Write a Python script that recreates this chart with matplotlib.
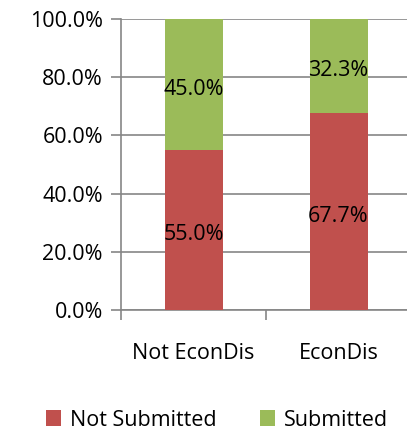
import matplotlib
matplotlib.use("Agg")
import matplotlib.pyplot as plt
import matplotlib.transforms as mtransforms
import numpy as np
from matplotlib.patches import Patch

categories = ["Not EconDis", "EconDis"]
not_submitted = [55.0, 67.7]
submitted = [45.0, 32.3]
series_names = ["Not Submitted", "Submitted"]
colors = ["#C0504D", "#9BBB59"]

plt.rcParams['font.family'] = ['Open Sans', 'DejaVu Sans']
FS = 15.5

fig = plt.figure(figsize=(4.07, 4.32), dpi=100)
ax = fig.add_axes([121/407, 1 - 310/432, 290/407, 291/432])

x = np.arange(len(categories))
w = 0.4
ax.bar(x, not_submitted, w, color=colors[0], zorder=3)
ax.bar(x, submitted, w, bottom=not_submitted, color=colors[1], zorder=3)

off = ax.transData + mtransforms.ScaledTranslation(0, -5/100, fig.dpi_scale_trans)
for i in range(len(categories)):
    ax.text(x[i], not_submitted[i] / 2, f"{not_submitted[i]:.1f}%", ha='center', va='center',
            fontsize=FS, color='black', zorder=4, transform=off)
    ax.text(x[i], not_submitted[i] + submitted[i] / 2, f"{submitted[i]:.1f}%", ha='center', va='center',
            fontsize=FS, color='black', zorder=4, transform=off)

ax.set_xlim(-0.5, 1.5)
ax.set_ylim(0, 100)
yt = np.arange(0, 101, 20)
ax.set_yticks(yt)
ax.set_yticklabels([f"{v:.1f}%" for v in yt], fontsize=FS)
ax.yaxis.grid(True, color='#868686', linewidth=1.2, zorder=0)
ax.tick_params(axis='y', length=7, width=1.2, color='#868686', pad=6)

ax.set_xticks([-0.5, 0.5, 1.5])
ax.set_xticklabels([])
ax.set_xticks(x, minor=True)
ax.set_xticklabels(categories, minor=True, fontsize=FS)
ax.tick_params(axis='x', which='major', length=7, width=1.2, color='#868686')
ax.tick_params(axis='x', which='minor', length=0, pad=24)

for s in ['top', 'right']:
    ax.spines[s].set_visible(False)
for s in ['left', 'bottom']:
    ax.spines[s].set_color('#868686')
    ax.spines[s].set_linewidth(1.2)

handles = [Patch(facecolor=c) for c in colors]
fig.legend(handles, series_names, loc='center', bbox_to_anchor=(217/407, 1 - 420/432),
           ncol=2, frameon=False, fontsize=FS, handlelength=0.7, handleheight=0.7,
           handletextpad=0.4, columnspacing=2.0)

fig.savefig("out.png", dpi=100)
